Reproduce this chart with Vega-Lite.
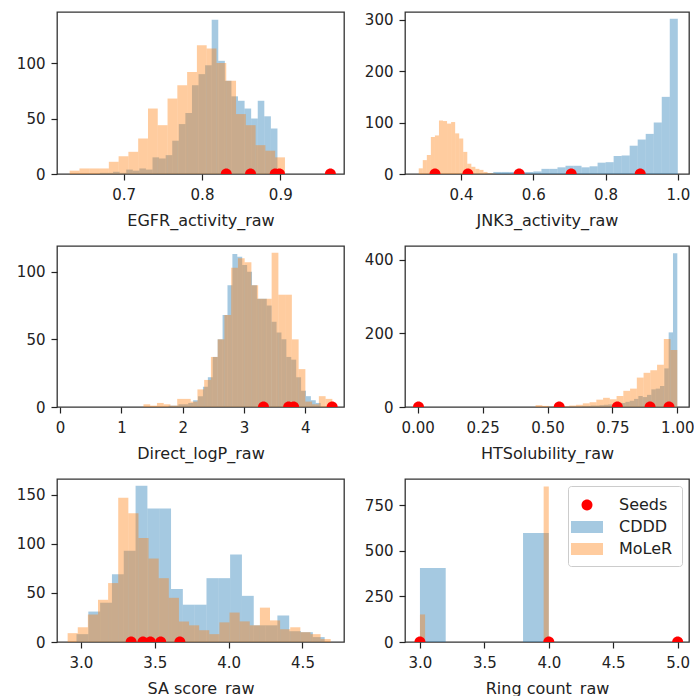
{
  "$schema": "https://vega.github.io/schema/vega-lite/v6.json",
  "background": "white",
  "padding": {"left": 15, "top": 11, "right": 0, "bottom": 0},
  "autosize": {"type": "pad"},
  "config": {
    "font": "DejaVu Sans",
    "view": {"stroke": "#333333", "strokeWidth": 1.3},
    "axis": {"domain": false, "grid": false, "ticks": true, "tickSize": 6, "tickWidth": 1.2, "tickColor": "#222222", "labelFont": "DejaVu Sans", "labelFontSize": 15, "labelColor": "#222222", "labelPadding": 7, "labelFlush": false, "labelOverlap": false, "labelBound": false, "titleFont": "DejaVu Sans", "titleFontSize": 16, "titleFontWeight": "normal", "titleColor": "#222222", "titlePadding": 10},
    "axisY": {"labelPadding": 6}
  },
  "datasets": {
    "hist": [
      {"panel":"EGFR","series":"CDDD","x0":0.6696,"x1":0.678,"count":1},
      {"panel":"EGFR","series":"CDDD","x0":0.678,"x1":0.6864,"count":1},
      {"panel":"EGFR","series":"CDDD","x0":0.6864,"x1":0.6948,"count":2},
      {"panel":"EGFR","series":"CDDD","x0":0.6948,"x1":0.7032,"count":1},
      {"panel":"EGFR","series":"CDDD","x0":0.7032,"x1":0.7116,"count":4},
      {"panel":"EGFR","series":"CDDD","x0":0.7116,"x1":0.72,"count":3},
      {"panel":"EGFR","series":"CDDD","x0":0.72,"x1":0.7284,"count":5},
      {"panel":"EGFR","series":"CDDD","x0":0.7284,"x1":0.7368,"count":4},
      {"panel":"EGFR","series":"CDDD","x0":0.7368,"x1":0.7452,"count":15},
      {"panel":"EGFR","series":"CDDD","x0":0.7452,"x1":0.7536,"count":14},
      {"panel":"EGFR","series":"CDDD","x0":0.7536,"x1":0.762,"count":17},
      {"panel":"EGFR","series":"CDDD","x0":0.762,"x1":0.7704,"count":30},
      {"panel":"EGFR","series":"CDDD","x0":0.7704,"x1":0.7788,"count":45},
      {"panel":"EGFR","series":"CDDD","x0":0.7788,"x1":0.7872,"count":55},
      {"panel":"EGFR","series":"CDDD","x0":0.7872,"x1":0.7956,"count":80},
      {"panel":"EGFR","series":"CDDD","x0":0.7956,"x1":0.804,"count":90},
      {"panel":"EGFR","series":"CDDD","x0":0.804,"x1":0.8124,"count":98},
      {"panel":"EGFR","series":"CDDD","x0":0.8124,"x1":0.8208,"count":139},
      {"panel":"EGFR","series":"CDDD","x0":0.8208,"x1":0.8292,"count":102},
      {"panel":"EGFR","series":"CDDD","x0":0.8292,"x1":0.8376,"count":84},
      {"panel":"EGFR","series":"CDDD","x0":0.8376,"x1":0.846,"count":70},
      {"panel":"EGFR","series":"CDDD","x0":0.846,"x1":0.8544,"count":66},
      {"panel":"EGFR","series":"CDDD","x0":0.8544,"x1":0.8628,"count":59},
      {"panel":"EGFR","series":"CDDD","x0":0.8628,"x1":0.8712,"count":50},
      {"panel":"EGFR","series":"CDDD","x0":0.8712,"x1":0.8796,"count":66},
      {"panel":"EGFR","series":"CDDD","x0":0.8796,"x1":0.888,"count":52},
      {"panel":"EGFR","series":"CDDD","x0":0.888,"x1":0.8964,"count":41},
      {"panel":"EGFR","series":"MoLeR","x0":0.631,"x1":0.6435,"count":3},
      {"panel":"EGFR","series":"MoLeR","x0":0.6435,"x1":0.656,"count":5},
      {"panel":"EGFR","series":"MoLeR","x0":0.656,"x1":0.6685,"count":5},
      {"panel":"EGFR","series":"MoLeR","x0":0.6685,"x1":0.681,"count":5},
      {"panel":"EGFR","series":"MoLeR","x0":0.681,"x1":0.6935,"count":11},
      {"panel":"EGFR","series":"MoLeR","x0":0.6935,"x1":0.706,"count":16},
      {"panel":"EGFR","series":"MoLeR","x0":0.706,"x1":0.7185,"count":20},
      {"panel":"EGFR","series":"MoLeR","x0":0.7185,"x1":0.731,"count":32},
      {"panel":"EGFR","series":"MoLeR","x0":0.731,"x1":0.7435,"count":59},
      {"panel":"EGFR","series":"MoLeR","x0":0.7435,"x1":0.756,"count":44},
      {"panel":"EGFR","series":"MoLeR","x0":0.756,"x1":0.7685,"count":68},
      {"panel":"EGFR","series":"MoLeR","x0":0.7685,"x1":0.781,"count":80},
      {"panel":"EGFR","series":"MoLeR","x0":0.781,"x1":0.7935,"count":92},
      {"panel":"EGFR","series":"MoLeR","x0":0.7935,"x1":0.806,"count":116},
      {"panel":"EGFR","series":"MoLeR","x0":0.806,"x1":0.8185,"count":113},
      {"panel":"EGFR","series":"MoLeR","x0":0.8185,"x1":0.831,"count":100},
      {"panel":"EGFR","series":"MoLeR","x0":0.831,"x1":0.8435,"count":84},
      {"panel":"EGFR","series":"MoLeR","x0":0.8435,"x1":0.856,"count":54},
      {"panel":"EGFR","series":"MoLeR","x0":0.856,"x1":0.8685,"count":44},
      {"panel":"EGFR","series":"MoLeR","x0":0.8685,"x1":0.881,"count":26},
      {"panel":"EGFR","series":"MoLeR","x0":0.881,"x1":0.8935,"count":21},
      {"panel":"EGFR","series":"MoLeR","x0":0.8935,"x1":0.906,"count":15},

      {"panel":"JNK3","series":"CDDD","x0":0.4228,"x1":0.445,"count":1},
      {"panel":"JNK3","series":"CDDD","x0":0.445,"x1":0.4672,"count":1},
      {"panel":"JNK3","series":"CDDD","x0":0.4672,"x1":0.4894,"count":2},
      {"panel":"JNK3","series":"CDDD","x0":0.4894,"x1":0.5116,"count":4},
      {"panel":"JNK3","series":"CDDD","x0":0.5116,"x1":0.5338,"count":4},
      {"panel":"JNK3","series":"CDDD","x0":0.5338,"x1":0.556,"count":4},
      {"panel":"JNK3","series":"CDDD","x0":0.556,"x1":0.5782,"count":4},
      {"panel":"JNK3","series":"CDDD","x0":0.5782,"x1":0.6004,"count":4},
      {"panel":"JNK3","series":"CDDD","x0":0.6004,"x1":0.6226,"count":5},
      {"panel":"JNK3","series":"CDDD","x0":0.6226,"x1":0.6448,"count":10},
      {"panel":"JNK3","series":"CDDD","x0":0.6448,"x1":0.667,"count":10},
      {"panel":"JNK3","series":"CDDD","x0":0.667,"x1":0.6892,"count":13},
      {"panel":"JNK3","series":"CDDD","x0":0.6892,"x1":0.7114,"count":16},
      {"panel":"JNK3","series":"CDDD","x0":0.7114,"x1":0.7336,"count":16},
      {"panel":"JNK3","series":"CDDD","x0":0.7336,"x1":0.7558,"count":13},
      {"panel":"JNK3","series":"CDDD","x0":0.7558,"x1":0.778,"count":15},
      {"panel":"JNK3","series":"CDDD","x0":0.778,"x1":0.8002,"count":22},
      {"panel":"JNK3","series":"CDDD","x0":0.8002,"x1":0.8224,"count":23},
      {"panel":"JNK3","series":"CDDD","x0":0.8224,"x1":0.8446,"count":35},
      {"panel":"JNK3","series":"CDDD","x0":0.8446,"x1":0.8668,"count":36},
      {"panel":"JNK3","series":"CDDD","x0":0.8668,"x1":0.889,"count":55},
      {"panel":"JNK3","series":"CDDD","x0":0.889,"x1":0.9112,"count":67},
      {"panel":"JNK3","series":"CDDD","x0":0.9112,"x1":0.9334,"count":78},
      {"panel":"JNK3","series":"CDDD","x0":0.9334,"x1":0.9556,"count":100},
      {"panel":"JNK3","series":"CDDD","x0":0.9556,"x1":0.9778,"count":150},
      {"panel":"JNK3","series":"CDDD","x0":0.9778,"x1":1.0,"count":302},
      {"panel":"JNK3","series":"MoLeR","x0":0.283,"x1":0.2942,"count":11},
      {"panel":"JNK3","series":"MoLeR","x0":0.2942,"x1":0.3054,"count":27},
      {"panel":"JNK3","series":"MoLeR","x0":0.3054,"x1":0.3166,"count":37},
      {"panel":"JNK3","series":"MoLeR","x0":0.3166,"x1":0.3278,"count":72},
      {"panel":"JNK3","series":"MoLeR","x0":0.3278,"x1":0.339,"count":75},
      {"panel":"JNK3","series":"MoLeR","x0":0.339,"x1":0.3502,"count":104},
      {"panel":"JNK3","series":"MoLeR","x0":0.3502,"x1":0.3614,"count":103},
      {"panel":"JNK3","series":"MoLeR","x0":0.3614,"x1":0.3726,"count":98},
      {"panel":"JNK3","series":"MoLeR","x0":0.3726,"x1":0.3838,"count":101},
      {"panel":"JNK3","series":"MoLeR","x0":0.3838,"x1":0.395,"count":79},
      {"panel":"JNK3","series":"MoLeR","x0":0.395,"x1":0.4062,"count":69},
      {"panel":"JNK3","series":"MoLeR","x0":0.4062,"x1":0.4174,"count":43},
      {"panel":"JNK3","series":"MoLeR","x0":0.4174,"x1":0.4286,"count":20},
      {"panel":"JNK3","series":"MoLeR","x0":0.4286,"x1":0.4398,"count":14},
      {"panel":"JNK3","series":"MoLeR","x0":0.4398,"x1":0.451,"count":10},
      {"panel":"JNK3","series":"MoLeR","x0":0.451,"x1":0.4622,"count":8},
      {"panel":"JNK3","series":"MoLeR","x0":0.4622,"x1":0.4734,"count":4},
      {"panel":"JNK3","series":"MoLeR","x0":0.4734,"x1":0.4846,"count":2},
      {"panel":"JNK3","series":"MoLeR","x0":0.4846,"x1":0.4958,"count":1},

      {"panel":"logP","series":"CDDD","x0":1.77,"x1":1.85,"count":1},
      {"panel":"logP","series":"CDDD","x0":1.85,"x1":1.93,"count":1},
      {"panel":"logP","series":"CDDD","x0":1.93,"x1":2.01,"count":2},
      {"panel":"logP","series":"CDDD","x0":2.01,"x1":2.09,"count":2},
      {"panel":"logP","series":"CDDD","x0":2.09,"x1":2.17,"count":3},
      {"panel":"logP","series":"CDDD","x0":2.17,"x1":2.25,"count":5},
      {"panel":"logP","series":"CDDD","x0":2.25,"x1":2.33,"count":8},
      {"panel":"logP","series":"CDDD","x0":2.33,"x1":2.41,"count":15},
      {"panel":"logP","series":"CDDD","x0":2.41,"x1":2.49,"count":22},
      {"panel":"logP","series":"CDDD","x0":2.49,"x1":2.57,"count":37},
      {"panel":"logP","series":"CDDD","x0":2.57,"x1":2.65,"count":50},
      {"panel":"logP","series":"CDDD","x0":2.65,"x1":2.73,"count":68},
      {"panel":"logP","series":"CDDD","x0":2.73,"x1":2.81,"count":90},
      {"panel":"logP","series":"CDDD","x0":2.81,"x1":2.89,"count":113},
      {"panel":"logP","series":"CDDD","x0":2.89,"x1":2.97,"count":111},
      {"panel":"logP","series":"CDDD","x0":2.97,"x1":3.05,"count":105},
      {"panel":"logP","series":"CDDD","x0":3.05,"x1":3.13,"count":100},
      {"panel":"logP","series":"CDDD","x0":3.13,"x1":3.21,"count":90},
      {"panel":"logP","series":"CDDD","x0":3.21,"x1":3.29,"count":80},
      {"panel":"logP","series":"CDDD","x0":3.29,"x1":3.37,"count":80},
      {"panel":"logP","series":"CDDD","x0":3.37,"x1":3.45,"count":75},
      {"panel":"logP","series":"CDDD","x0":3.45,"x1":3.53,"count":63},
      {"panel":"logP","series":"CDDD","x0":3.53,"x1":3.61,"count":55},
      {"panel":"logP","series":"CDDD","x0":3.61,"x1":3.69,"count":50},
      {"panel":"logP","series":"CDDD","x0":3.69,"x1":3.77,"count":37},
      {"panel":"logP","series":"CDDD","x0":3.77,"x1":3.85,"count":35},
      {"panel":"logP","series":"CDDD","x0":3.85,"x1":3.93,"count":22},
      {"panel":"logP","series":"CDDD","x0":3.93,"x1":4.01,"count":12},
      {"panel":"logP","series":"CDDD","x0":4.01,"x1":4.09,"count":8},
      {"panel":"logP","series":"CDDD","x0":4.09,"x1":4.17,"count":5},
      {"panel":"logP","series":"CDDD","x0":4.17,"x1":4.25,"count":3},
      {"panel":"logP","series":"MoLeR","x0":1.36,"x1":1.47,"count":2},
      {"panel":"logP","series":"MoLeR","x0":1.47,"x1":1.58,"count":1},
      {"panel":"logP","series":"MoLeR","x0":1.58,"x1":1.69,"count":3},
      {"panel":"logP","series":"MoLeR","x0":1.69,"x1":1.8,"count":2},
      {"panel":"logP","series":"MoLeR","x0":1.8,"x1":1.91,"count":1},
      {"panel":"logP","series":"MoLeR","x0":1.91,"x1":2.02,"count":6},
      {"panel":"logP","series":"MoLeR","x0":2.02,"x1":2.13,"count":6},
      {"panel":"logP","series":"MoLeR","x0":2.13,"x1":2.24,"count":4},
      {"panel":"logP","series":"MoLeR","x0":2.24,"x1":2.35,"count":13},
      {"panel":"logP","series":"MoLeR","x0":2.35,"x1":2.46,"count":20},
      {"panel":"logP","series":"MoLeR","x0":2.46,"x1":2.57,"count":37},
      {"panel":"logP","series":"MoLeR","x0":2.57,"x1":2.68,"count":50},
      {"panel":"logP","series":"MoLeR","x0":2.68,"x1":2.79,"count":68},
      {"panel":"logP","series":"MoLeR","x0":2.79,"x1":2.9,"count":103},
      {"panel":"logP","series":"MoLeR","x0":2.9,"x1":3.01,"count":110},
      {"panel":"logP","series":"MoLeR","x0":3.01,"x1":3.12,"count":107},
      {"panel":"logP","series":"MoLeR","x0":3.12,"x1":3.23,"count":90},
      {"panel":"logP","series":"MoLeR","x0":3.23,"x1":3.34,"count":80},
      {"panel":"logP","series":"MoLeR","x0":3.34,"x1":3.45,"count":80},
      {"panel":"logP","series":"MoLeR","x0":3.45,"x1":3.56,"count":114},
      {"panel":"logP","series":"MoLeR","x0":3.56,"x1":3.67,"count":83},
      {"panel":"logP","series":"MoLeR","x0":3.67,"x1":3.78,"count":83},
      {"panel":"logP","series":"MoLeR","x0":3.78,"x1":3.89,"count":50},
      {"panel":"logP","series":"MoLeR","x0":3.89,"x1":4.0,"count":28},
      {"panel":"logP","series":"MoLeR","x0":4.0,"x1":4.11,"count":4},
      {"panel":"logP","series":"MoLeR","x0":4.11,"x1":4.22,"count":2},
      {"panel":"logP","series":"MoLeR","x0":4.22,"x1":4.33,"count":8},
      {"panel":"logP","series":"MoLeR","x0":4.33,"x1":4.44,"count":6},

      {"panel":"HTS","series":"CDDD","x0":0.5,"x1":0.5167,"count":1},
      {"panel":"HTS","series":"CDDD","x0":0.5167,"x1":0.5333,"count":1},
      {"panel":"HTS","series":"CDDD","x0":0.5333,"x1":0.55,"count":1},
      {"panel":"HTS","series":"CDDD","x0":0.55,"x1":0.5667,"count":2},
      {"panel":"HTS","series":"CDDD","x0":0.5667,"x1":0.5833,"count":1},
      {"panel":"HTS","series":"CDDD","x0":0.5833,"x1":0.6,"count":2},
      {"panel":"HTS","series":"CDDD","x0":0.6,"x1":0.6167,"count":2},
      {"panel":"HTS","series":"CDDD","x0":0.6167,"x1":0.6333,"count":2},
      {"panel":"HTS","series":"CDDD","x0":0.6333,"x1":0.65,"count":3},
      {"panel":"HTS","series":"CDDD","x0":0.65,"x1":0.6667,"count":3},
      {"panel":"HTS","series":"CDDD","x0":0.6667,"x1":0.6833,"count":4},
      {"panel":"HTS","series":"CDDD","x0":0.6833,"x1":0.7,"count":4},
      {"panel":"HTS","series":"CDDD","x0":0.7,"x1":0.7167,"count":5},
      {"panel":"HTS","series":"CDDD","x0":0.7167,"x1":0.7333,"count":6},
      {"panel":"HTS","series":"CDDD","x0":0.7333,"x1":0.75,"count":7},
      {"panel":"HTS","series":"CDDD","x0":0.75,"x1":0.7667,"count":8},
      {"panel":"HTS","series":"CDDD","x0":0.7667,"x1":0.7833,"count":9},
      {"panel":"HTS","series":"CDDD","x0":0.7833,"x1":0.8,"count":11},
      {"panel":"HTS","series":"CDDD","x0":0.8,"x1":0.8167,"count":14},
      {"panel":"HTS","series":"CDDD","x0":0.8167,"x1":0.8333,"count":17},
      {"panel":"HTS","series":"CDDD","x0":0.8333,"x1":0.85,"count":22},
      {"panel":"HTS","series":"CDDD","x0":0.85,"x1":0.8667,"count":30},
      {"panel":"HTS","series":"CDDD","x0":0.8667,"x1":0.8833,"count":27},
      {"panel":"HTS","series":"CDDD","x0":0.8833,"x1":0.9,"count":33},
      {"panel":"HTS","series":"CDDD","x0":0.9,"x1":0.9167,"count":48},
      {"panel":"HTS","series":"CDDD","x0":0.9167,"x1":0.9333,"count":50},
      {"panel":"HTS","series":"CDDD","x0":0.9333,"x1":0.95,"count":57},
      {"panel":"HTS","series":"CDDD","x0":0.95,"x1":0.9667,"count":105},
      {"panel":"HTS","series":"CDDD","x0":0.9667,"x1":0.9833,"count":203},
      {"panel":"HTS","series":"CDDD","x0":0.9833,"x1":1.0,"count":418},
      {"panel":"HTS","series":"MoLeR","x0":0.454,"x1":0.48,"count":5},
      {"panel":"HTS","series":"MoLeR","x0":0.48,"x1":0.506,"count":3},
      {"panel":"HTS","series":"MoLeR","x0":0.506,"x1":0.532,"count":1},
      {"panel":"HTS","series":"MoLeR","x0":0.532,"x1":0.558,"count":2},
      {"panel":"HTS","series":"MoLeR","x0":0.558,"x1":0.584,"count":2},
      {"panel":"HTS","series":"MoLeR","x0":0.584,"x1":0.61,"count":4},
      {"panel":"HTS","series":"MoLeR","x0":0.61,"x1":0.636,"count":6},
      {"panel":"HTS","series":"MoLeR","x0":0.636,"x1":0.662,"count":10},
      {"panel":"HTS","series":"MoLeR","x0":0.662,"x1":0.688,"count":13},
      {"panel":"HTS","series":"MoLeR","x0":0.688,"x1":0.714,"count":20},
      {"panel":"HTS","series":"MoLeR","x0":0.714,"x1":0.74,"count":25},
      {"panel":"HTS","series":"MoLeR","x0":0.74,"x1":0.766,"count":21},
      {"panel":"HTS","series":"MoLeR","x0":0.766,"x1":0.792,"count":30},
      {"panel":"HTS","series":"MoLeR","x0":0.792,"x1":0.818,"count":44},
      {"panel":"HTS","series":"MoLeR","x0":0.818,"x1":0.844,"count":50},
      {"panel":"HTS","series":"MoLeR","x0":0.844,"x1":0.87,"count":80},
      {"panel":"HTS","series":"MoLeR","x0":0.87,"x1":0.896,"count":93},
      {"panel":"HTS","series":"MoLeR","x0":0.896,"x1":0.922,"count":100},
      {"panel":"HTS","series":"MoLeR","x0":0.922,"x1":0.948,"count":115},
      {"panel":"HTS","series":"MoLeR","x0":0.948,"x1":0.974,"count":185},
      {"panel":"HTS","series":"MoLeR","x0":0.974,"x1":1.0,"count":155},

      {"panel":"SA","series":"CDDD","x0":2.97,"x1":3.05,"count":8},
      {"panel":"SA","series":"CDDD","x0":3.05,"x1":3.13,"count":31},
      {"panel":"SA","series":"CDDD","x0":3.13,"x1":3.21,"count":40},
      {"panel":"SA","series":"CDDD","x0":3.21,"x1":3.29,"count":69},
      {"panel":"SA","series":"CDDD","x0":3.29,"x1":3.37,"count":93},
      {"panel":"SA","series":"CDDD","x0":3.37,"x1":3.45,"count":159},
      {"panel":"SA","series":"CDDD","x0":3.45,"x1":3.53,"count":136},
      {"panel":"SA","series":"CDDD","x0":3.53,"x1":3.61,"count":136},
      {"panel":"SA","series":"CDDD","x0":3.61,"x1":3.69,"count":54},
      {"panel":"SA","series":"CDDD","x0":3.69,"x1":3.77,"count":38},
      {"panel":"SA","series":"CDDD","x0":3.77,"x1":3.85,"count":38},
      {"panel":"SA","series":"CDDD","x0":3.85,"x1":3.93,"count":65},
      {"panel":"SA","series":"CDDD","x0":3.93,"x1":4.01,"count":65},
      {"panel":"SA","series":"CDDD","x0":4.01,"x1":4.09,"count":89},
      {"panel":"SA","series":"CDDD","x0":4.09,"x1":4.17,"count":47},
      {"panel":"SA","series":"CDDD","x0":4.17,"x1":4.25,"count":17},
      {"panel":"SA","series":"CDDD","x0":4.25,"x1":4.33,"count":17},
      {"panel":"SA","series":"CDDD","x0":4.33,"x1":4.41,"count":27},
      {"panel":"SA","series":"CDDD","x0":4.41,"x1":4.49,"count":11},
      {"panel":"SA","series":"CDDD","x0":4.49,"x1":4.57,"count":10},
      {"panel":"SA","series":"CDDD","x0":4.57,"x1":4.65,"count":5},
      {"panel":"SA","series":"MoLeR","x0":2.91,"x1":2.9785,"count":9},
      {"panel":"SA","series":"MoLeR","x0":2.9785,"x1":3.047,"count":15},
      {"panel":"SA","series":"MoLeR","x0":3.047,"x1":3.1155,"count":28},
      {"panel":"SA","series":"MoLeR","x0":3.1155,"x1":3.184,"count":43},
      {"panel":"SA","series":"MoLeR","x0":3.184,"x1":3.2525,"count":60},
      {"panel":"SA","series":"MoLeR","x0":3.2525,"x1":3.321,"count":147},
      {"panel":"SA","series":"MoLeR","x0":3.321,"x1":3.3895,"count":131},
      {"panel":"SA","series":"MoLeR","x0":3.3895,"x1":3.458,"count":106},
      {"panel":"SA","series":"MoLeR","x0":3.458,"x1":3.5265,"count":85},
      {"panel":"SA","series":"MoLeR","x0":3.5265,"x1":3.595,"count":65},
      {"panel":"SA","series":"MoLeR","x0":3.595,"x1":3.6635,"count":45},
      {"panel":"SA","series":"MoLeR","x0":3.6635,"x1":3.732,"count":21},
      {"panel":"SA","series":"MoLeR","x0":3.732,"x1":3.8005,"count":17},
      {"panel":"SA","series":"MoLeR","x0":3.8005,"x1":3.869,"count":12},
      {"panel":"SA","series":"MoLeR","x0":3.869,"x1":3.9375,"count":8},
      {"panel":"SA","series":"MoLeR","x0":3.9375,"x1":4.006,"count":20},
      {"panel":"SA","series":"MoLeR","x0":4.006,"x1":4.0745,"count":30},
      {"panel":"SA","series":"MoLeR","x0":4.0745,"x1":4.143,"count":21},
      {"panel":"SA","series":"MoLeR","x0":4.143,"x1":4.2115,"count":17},
      {"panel":"SA","series":"MoLeR","x0":4.2115,"x1":4.28,"count":35},
      {"panel":"SA","series":"MoLeR","x0":4.28,"x1":4.3485,"count":22},
      {"panel":"SA","series":"MoLeR","x0":4.3485,"x1":4.417,"count":13},
      {"panel":"SA","series":"MoLeR","x0":4.417,"x1":4.4855,"count":15},
      {"panel":"SA","series":"MoLeR","x0":4.4855,"x1":4.554,"count":10},
      {"panel":"SA","series":"MoLeR","x0":4.554,"x1":4.6225,"count":8},
      {"panel":"SA","series":"MoLeR","x0":4.6225,"x1":4.691,"count":3},

      {"panel":"Ring","series":"CDDD","x0":3.0,"x1":3.2,"count":405},
      {"panel":"Ring","series":"CDDD","x0":3.8,"x1":4.0,"count":597},
      {"panel":"Ring","series":"MoLeR","x0":3.0,"x1":3.04,"count":151},
      {"panel":"Ring","series":"MoLeR","x0":3.96,"x1":4.0,"count":852}
    ],
    "seeds": [
      {"panel":"EGFR","series":"Seeds","value":0.831},
      {"panel":"EGFR","series":"Seeds","value":0.862},
      {"panel":"EGFR","series":"Seeds","value":0.8935},
      {"panel":"EGFR","series":"Seeds","value":0.899},
      {"panel":"EGFR","series":"Seeds","value":0.964},
      {"panel":"JNK3","series":"Seeds","value":0.328},
      {"panel":"JNK3","series":"Seeds","value":0.419},
      {"panel":"JNK3","series":"Seeds","value":0.561},
      {"panel":"JNK3","series":"Seeds","value":0.705},
      {"panel":"JNK3","series":"Seeds","value":0.896},
      {"panel":"logP","series":"Seeds","value":3.317},
      {"panel":"logP","series":"Seeds","value":3.727},
      {"panel":"logP","series":"Seeds","value":3.809},
      {"panel":"logP","series":"Seeds","value":4.437},
      {"panel":"HTS","series":"Seeds","value":0.003},
      {"panel":"HTS","series":"Seeds","value":0.545},
      {"panel":"HTS","series":"Seeds","value":0.769},
      {"panel":"HTS","series":"Seeds","value":0.895},
      {"panel":"HTS","series":"Seeds","value":0.968},
      {"panel":"SA","series":"Seeds","value":3.34},
      {"panel":"SA","series":"Seeds","value":3.42},
      {"panel":"SA","series":"Seeds","value":3.47},
      {"panel":"SA","series":"Seeds","value":3.54},
      {"panel":"SA","series":"Seeds","value":3.67},
      {"panel":"Ring","series":"Seeds","value":3.0},
      {"panel":"Ring","series":"Seeds","value":4.0},
      {"panel":"Ring","series":"Seeds","value":5.0}
    ]
  },
  "columns": 2,
  "spacing": {"row": 72, "column": 61},
  "bounds": "flush",
  "resolve": {"scale": {"color": "independent"}},
  "concat": [
    {
      "width": 287, "height": 162,
      "layer": [
        {"data": {"name": "hist"}, "transform": [{"filter": "datum.panel === 'EGFR'"}], "mark": {"type": "rect"},
         "encoding": {
           "x": {"field": "x0", "type": "quantitative", "title": "EGFR_activity_raw", "scale": {"domain": [0.6148, 0.9814], "nice": false, "zero": false}, "axis": {"values": [0.7, 0.8, 0.9], "format": ".1f"}},
           "x2": {"field": "x1"},
           "y": {"field": "count", "type": "quantitative", "title": null, "scale": {"domain": [0, 146], "nice": false}, "axis": {"values": [0, 50, 100], "format": "d"}},
           "y2": {"datum": 0},
           "color": {"field": "series", "type": "nominal", "legend": null, "scale": {"domain": ["Seeds", "CDDD", "MoLeR"], "range": ["#ff0000", "rgba(31,119,180,0.4)", "rgba(255,127,14,0.4)"]}}
         }},
        {"data": {"name": "seeds"}, "transform": [{"filter": "datum.panel === 'EGFR'"}], "mark": {"type": "point", "filled": true, "size": 400, "opacity": 1, "clip": true, "shape": "M0.55,0A0.55,0.55,0,0,0,-0.55,0Z"},
         "encoding": {
           "x": {"field": "value", "type": "quantitative", "title": "EGFR_activity_raw"},
           "y": {"datum": 0, "type": "quantitative", "title": null},
           "color": {"field": "series", "type": "nominal", "legend": null, "scale": {"domain": ["Seeds", "CDDD", "MoLeR"], "range": ["#ff0000", "rgba(31,119,180,0.4)", "rgba(255,127,14,0.4)"]}}
         }}
      ]
    },
    {
      "width": 284, "height": 162,
      "layer": [
        {"data": {"name": "hist"}, "transform": [{"filter": "datum.panel === 'JNK3'"}], "mark": {"type": "rect"},
         "encoding": {
           "x": {"field": "x0", "type": "quantitative", "title": "JNK3_activity_raw", "scale": {"domain": [0.245, 1.031], "nice": false, "zero": false}, "axis": {"values": [0.4, 0.6, 0.8, 1.0], "format": ".1f"}},
           "x2": {"field": "x1"},
           "y": {"field": "count", "type": "quantitative", "title": null, "scale": {"domain": [0, 315], "nice": false}, "axis": {"values": [0, 100, 200, 300], "format": "d"}},
           "y2": {"datum": 0},
           "color": {"field": "series", "type": "nominal", "legend": null, "scale": {"domain": ["Seeds", "CDDD", "MoLeR"], "range": ["#ff0000", "rgba(31,119,180,0.4)", "rgba(255,127,14,0.4)"]}}
         }},
        {"data": {"name": "seeds"}, "transform": [{"filter": "datum.panel === 'JNK3'"}], "mark": {"type": "point", "filled": true, "size": 400, "opacity": 1, "clip": true, "shape": "M0.55,0A0.55,0.55,0,0,0,-0.55,0Z"},
         "encoding": {
           "x": {"field": "value", "type": "quantitative", "title": "JNK3_activity_raw"},
           "y": {"datum": 0, "type": "quantitative", "title": null},
           "color": {"field": "series", "type": "nominal", "legend": null, "scale": {"domain": ["Seeds", "CDDD", "MoLeR"], "range": ["#ff0000", "rgba(31,119,180,0.4)", "rgba(255,127,14,0.4)"]}}
         }}
      ]
    },
    {
      "width": 287, "height": 161,
      "layer": [
        {"data": {"name": "hist"}, "transform": [{"filter": "datum.panel === 'logP'"}], "mark": {"type": "rect"},
         "encoding": {
           "x": {"field": "x0", "type": "quantitative", "title": "Direct_logP_raw", "scale": {"domain": [-0.05, 4.63], "nice": false, "zero": false}, "axis": {"values": [0, 1, 2, 3, 4], "format": "d"}},
           "x2": {"field": "x1"},
           "y": {"field": "count", "type": "quantitative", "title": null, "scale": {"domain": [0, 119], "nice": false}, "axis": {"values": [0, 50, 100], "format": "d"}},
           "y2": {"datum": 0},
           "color": {"field": "series", "type": "nominal", "legend": null, "scale": {"domain": ["Seeds", "CDDD", "MoLeR"], "range": ["#ff0000", "rgba(31,119,180,0.4)", "rgba(255,127,14,0.4)"]}}
         }},
        {"data": {"name": "seeds"}, "transform": [{"filter": "datum.panel === 'logP'"}], "mark": {"type": "point", "filled": true, "size": 400, "opacity": 1, "clip": true, "shape": "M0.55,0A0.55,0.55,0,0,0,-0.55,0Z"},
         "encoding": {
           "x": {"field": "value", "type": "quantitative", "title": "Direct_logP_raw"},
           "y": {"datum": 0, "type": "quantitative", "title": null},
           "color": {"field": "series", "type": "nominal", "legend": null, "scale": {"domain": ["Seeds", "CDDD", "MoLeR"], "range": ["#ff0000", "rgba(31,119,180,0.4)", "rgba(255,127,14,0.4)"]}}
         }}
      ]
    },
    {
      "width": 284, "height": 161,
      "layer": [
        {"data": {"name": "hist"}, "transform": [{"filter": "datum.panel === 'HTS'"}], "mark": {"type": "rect"},
         "encoding": {
           "x": {"field": "x0", "type": "quantitative", "title": "HTSolubility_raw", "scale": {"domain": [-0.049, 1.045], "nice": false, "zero": false}, "axis": {"values": [0, 0.25, 0.5, 0.75, 1.0], "format": ".2f"}},
           "x2": {"field": "x1"},
           "y": {"field": "count", "type": "quantitative", "title": null, "scale": {"domain": [0, 438], "nice": false}, "axis": {"values": [0, 200, 400], "format": "d"}},
           "y2": {"datum": 0},
           "color": {"field": "series", "type": "nominal", "legend": null, "scale": {"domain": ["Seeds", "CDDD", "MoLeR"], "range": ["#ff0000", "rgba(31,119,180,0.4)", "rgba(255,127,14,0.4)"]}}
         }},
        {"data": {"name": "seeds"}, "transform": [{"filter": "datum.panel === 'HTS'"}], "mark": {"type": "point", "filled": true, "size": 400, "opacity": 1, "clip": true, "shape": "M0.55,0A0.55,0.55,0,0,0,-0.55,0Z"},
         "encoding": {
           "x": {"field": "value", "type": "quantitative", "title": "HTSolubility_raw"},
           "y": {"datum": 0, "type": "quantitative", "title": null},
           "color": {"field": "series", "type": "nominal", "legend": null, "scale": {"domain": ["Seeds", "CDDD", "MoLeR"], "range": ["#ff0000", "rgba(31,119,180,0.4)", "rgba(255,127,14,0.4)"]}}
         }}
      ]
    },
    {
      "width": 287, "height": 163,
      "layer": [
        {"data": {"name": "hist"}, "transform": [{"filter": "datum.panel === 'SA'"}], "mark": {"type": "rect"},
         "encoding": {
           "x": {"field": "x0", "type": "quantitative", "title": "SA score_raw", "scale": {"domain": [2.838, 4.781], "nice": false, "zero": false}, "axis": {"values": [3.0, 3.5, 4.0, 4.5], "format": ".1f"}},
           "x2": {"field": "x1"},
           "y": {"field": "count", "type": "quantitative", "title": null, "scale": {"domain": [0, 166], "nice": false}, "axis": {"values": [0, 50, 100, 150], "format": "d"}},
           "y2": {"datum": 0},
           "color": {"field": "series", "type": "nominal", "legend": null, "scale": {"domain": ["Seeds", "CDDD", "MoLeR"], "range": ["#ff0000", "rgba(31,119,180,0.4)", "rgba(255,127,14,0.4)"]}}
         }},
        {"data": {"name": "seeds"}, "transform": [{"filter": "datum.panel === 'SA'"}], "mark": {"type": "point", "filled": true, "size": 400, "opacity": 1, "clip": true, "shape": "M0.55,0A0.55,0.55,0,0,0,-0.55,0Z"},
         "encoding": {
           "x": {"field": "value", "type": "quantitative", "title": "SA score_raw"},
           "y": {"datum": 0, "type": "quantitative", "title": null},
           "color": {"field": "series", "type": "nominal", "legend": null, "scale": {"domain": ["Seeds", "CDDD", "MoLeR"], "range": ["#ff0000", "rgba(31,119,180,0.4)", "rgba(255,127,14,0.4)"]}}
         }}
      ]
    },
    {
      "width": 284, "height": 163,
      "layer": [
        {"data": {"name": "hist"}, "transform": [{"filter": "datum.panel === 'Ring'"}], "mark": {"type": "rect"},
         "encoding": {
           "x": {"field": "x0", "type": "quantitative", "title": "Ring count_raw", "scale": {"domain": [2.884, 5.088], "nice": false, "zero": false}, "axis": {"values": [3.0, 3.5, 4.0, 4.5, 5.0], "format": ".1f"}},
           "x2": {"field": "x1"},
           "y": {"field": "count", "type": "quantitative", "title": null, "scale": {"domain": [0, 893], "nice": false}, "axis": {"values": [0, 250, 500, 750], "format": "d"}},
           "y2": {"datum": 0},
           "color": {"field": "series", "type": "nominal", "scale": {"domain": ["Seeds", "CDDD", "MoLeR"], "range": ["#ff0000", "rgba(31,119,180,0.4)", "rgba(255,127,14,0.4)"]},
             "legend": {"title": null, "orient": "top-right", "offset": 7, "symbolSize": 400, "symbolOpacity": 1, "labelFont": "DejaVu Sans", "labelFontSize": 16, "labelColor": "#222222", "labelOffset": 22, "padding": 9, "rowPadding": 4, "strokeColor": "#cccccc", "fillColor": "rgba(255,255,255,0.8)", "cornerRadius": 3, "symbolStrokeWidth": 0,
               "encode": {"symbols": {"update": {"shape": {"signal": "datum.value === 'Seeds' ? 'M0.55,0A0.55,0.55,0,1,1,-0.55,0A0.55,0.55,0,1,1,0.55,0Z' : 'M-1.6,-0.6H1.6V0.6H-1.6Z'"}, "opacity": {"value": 1}}}}}}
         }},
        {"data": {"name": "seeds"}, "transform": [{"filter": "datum.panel === 'Ring'"}], "mark": {"type": "point", "filled": true, "size": 400, "opacity": 1, "clip": true, "shape": "M0.55,0A0.55,0.55,0,0,0,-0.55,0Z"},
         "encoding": {
           "x": {"field": "value", "type": "quantitative", "title": "Ring count_raw"},
           "y": {"datum": 0, "type": "quantitative", "title": null},
           "color": {"field": "series", "type": "nominal", "scale": {"domain": ["Seeds", "CDDD", "MoLeR"], "range": ["#ff0000", "rgba(31,119,180,0.4)", "rgba(255,127,14,0.4)"]},
             "legend": {"title": null, "orient": "top-right", "offset": 7, "symbolSize": 400, "symbolOpacity": 1, "labelFont": "DejaVu Sans", "labelFontSize": 16, "labelColor": "#222222", "labelOffset": 22, "padding": 9, "rowPadding": 4, "strokeColor": "#cccccc", "fillColor": "rgba(255,255,255,0.8)", "cornerRadius": 3, "symbolStrokeWidth": 0,
               "encode": {"symbols": {"update": {"shape": {"signal": "datum.value === 'Seeds' ? 'M0.55,0A0.55,0.55,0,1,1,-0.55,0A0.55,0.55,0,1,1,0.55,0Z' : 'M-1.6,-0.6H1.6V0.6H-1.6Z'"}, "opacity": {"value": 1}}}}}}
         }}
      ]
    }
  ]
}
